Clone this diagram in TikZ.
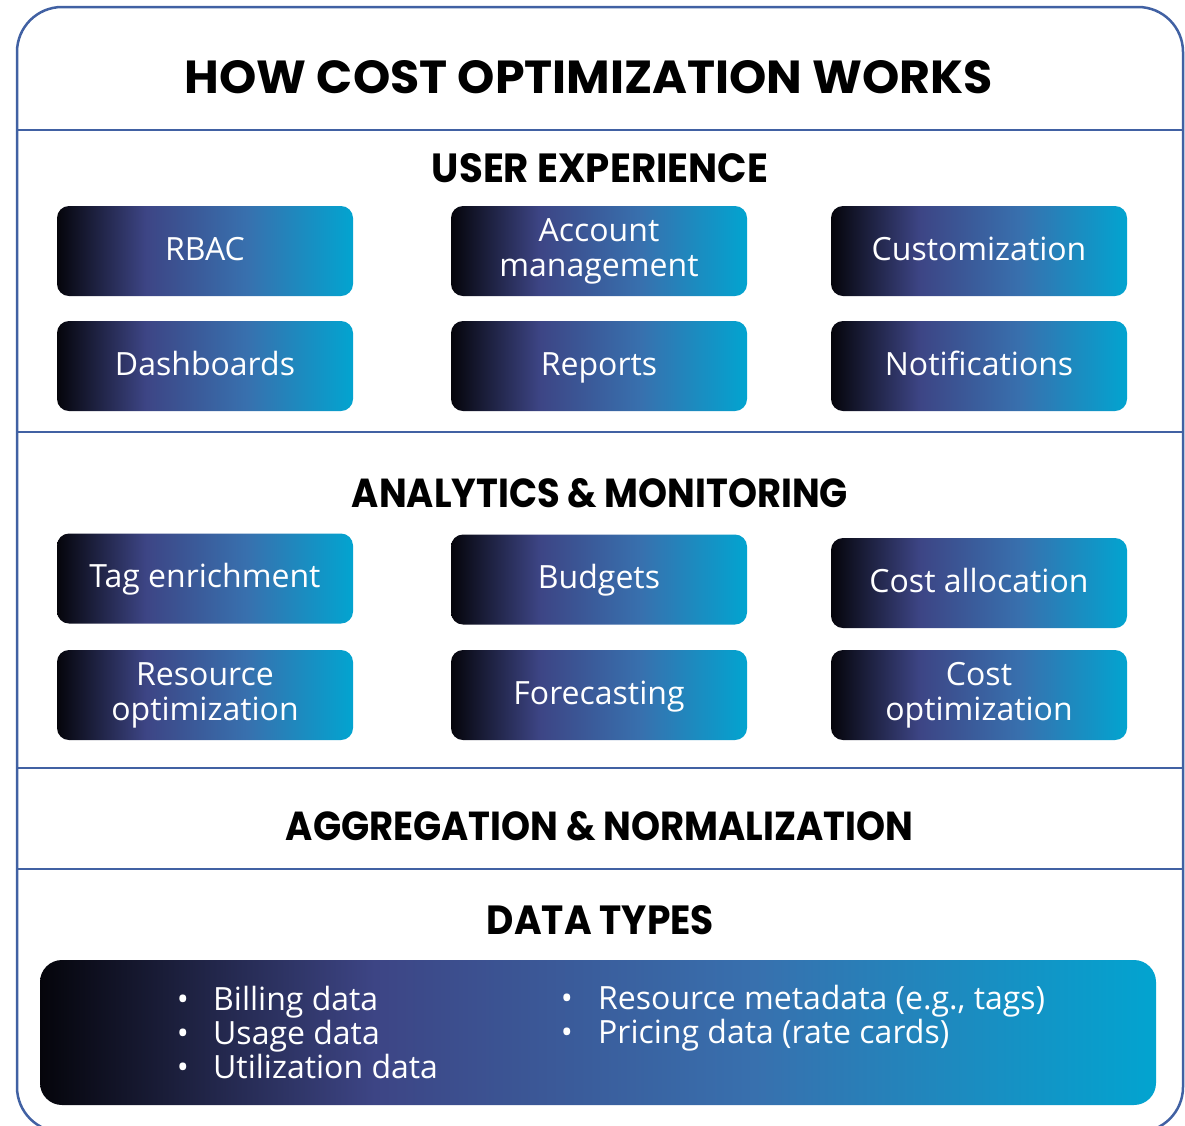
\documentclass[tikz,border=0pt]{standalone}
\usepackage{fontspec}
\setmainfont{Open Sans}
\newfontfamily\headfont{Poppins}
\definecolor{gA}{HTML}{05050B}
\definecolor{gB}{HTML}{3D4585}
\definecolor{gC}{HTML}{3870AE}
\definecolor{gD}{HTML}{02A4D0}
\definecolor{frameblue}{HTML}{4161A3}
\pgfdeclarehorizontalshading{boxgrad}{100bp}{color(0bp)=(gA); color(25bp)=(gA); color(40bp)=(gB); color(57bp)=(gC); color(75bp)=(gD); color(100bp)=(gD)}
\newcommand{\fitto}[3]{\resizebox{#1pt}{#2pt}{\headfont\bfseries #3}}
\newcommand{\twolines}[2]{\raisebox{-1.5pt}{\begin{tabular}{@{}c@{}}#1\\#2\end{tabular}}}
\begin{document}
\begin{tikzpicture}[x=1pt,y=-1pt,
  framel/.style={draw=frameblue, line width=2.5pt},
  head/.style={inner sep=0pt, text=black},
  tile/.style={shade, shading=boxgrad, rounded corners=12pt, minimum width=296pt, minimum height=90pt, inner sep=0pt, text=white, align=center, font=\fontsize{32}{35}\selectfont},
  oneline/.style={text height=24pt, text depth=6pt},
  item/.style={inner sep=0pt, text=white, anchor=base west, font=\fontsize{32}{35}\selectfont},
  dot/.style={inner sep=0pt, text=white, anchor=base, font=\fontsize{32}{35}\selectfont}]
\useasboundingbox (0,0) rectangle (1185,1125);
\clip (0,0) rectangle (1185,1125);
\fill[white] (0,0) rectangle (1185,1125);
\draw[framel, rounded corners=45pt] (17,7) rectangle (1183,1132);
\draw[framel] (17,130) -- (1183,130);
\draw[framel] (17,432) -- (1183,432);
\draw[framel] (17,768) -- (1183,768);
\draw[framel] (17,869) -- (1183,869);
% headings
\node[head] (title) at (589,77) {\fitto{808}{33}{HOW COST OPTIMIZATION WORKS}};
\node[head] (ux) at (600,168) {\fitto{336}{29}{USER EXPERIENCE}};
\node[head] (am) at (600,493.5) {\fitto{496}{29}{ANALYTICS \& MONITORING}};
\node[head] (agg) at (599.5,826.5) {\fitto{627}{29}{AGGREGATION \& NORMALIZATION}};
\node[head] (dt) at (600.5,920.5) {\fitto{227}{29}{DATA TYPES}};
% user experience tiles
\node[tile, oneline] (rbac) at (205,251) {RBAC};
\node[tile] (acct) at (599,251) {Account\\management};
\node[tile, oneline] (cust) at (979,251) {Customization};
\node[tile, oneline] (dash) at (205,366) {Dashboards};
\node[tile, oneline] (rep) at (599,366) {Reports};
\node[tile, oneline] (noti) at (979,366) {Notifications};
% analytics tiles
\node[tile, oneline] (tag) at (205,578.5) {Tag enrichment};
\node[tile, oneline] (budg) at (599,579.5) {Budgets};
\node[tile, oneline] (alloc) at (979,583) {Cost allocation};
\node[tile] (resopt) at (205,695) {Resource\\optimization};
\node[tile, oneline] (fore) at (599,695) {Forecasting};
\node[tile] (costopt) at (979,695) {Cost\\optimization};
% data types
\node[tile, minimum width=1116pt, minimum height=145pt, rounded corners=22pt] (data) at (598,1032.5) {};
\node[dot] (b1) at (183,1010) {•};
\node[item] (i1) at (213,1010) {Billing data};
\node[dot] (b2) at (183,1044) {•};
\node[item] (i2) at (213,1044) {Usage data};
\node[dot] (b3) at (183,1078) {•};
\node[item] (i3) at (213,1078) {Utilization data};
\node[dot] (b4) at (567,1009) {•};
\node[item] (i4) at (598,1009) {Resource metadata (e.g., tags)};
\node[dot] (b5) at (567,1043) {•};
\node[item] (i5) at (598,1043) {Pricing data (rate cards)};
\end{tikzpicture}
\end{document}
